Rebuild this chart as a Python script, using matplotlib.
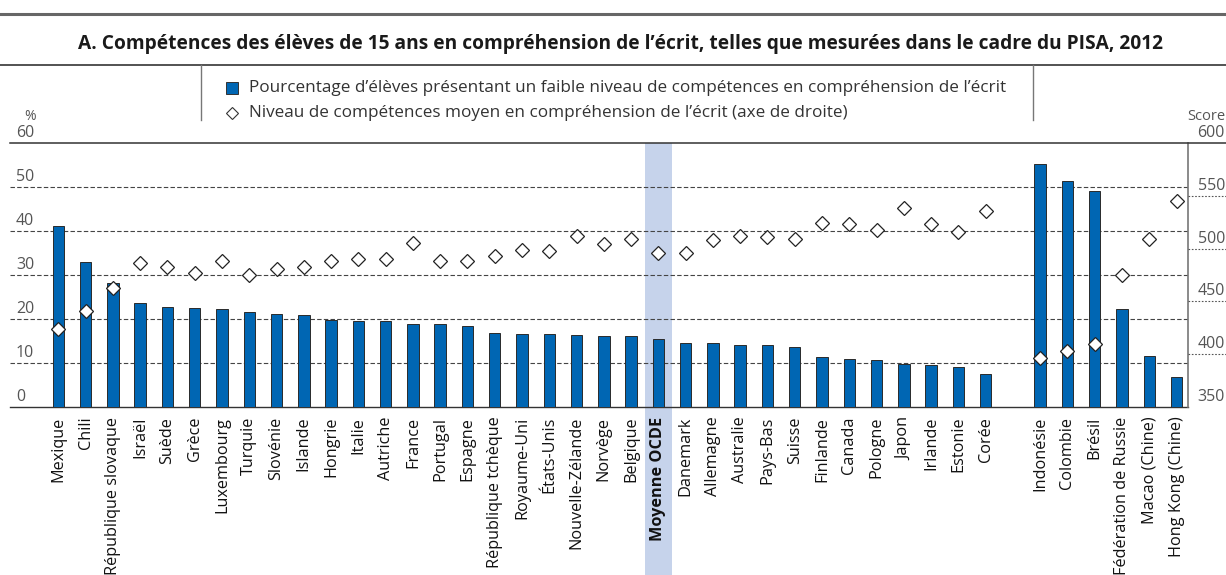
import numpy as np
import matplotlib
matplotlib.use("Agg")
import matplotlib.pyplot as plt
from matplotlib import transforms
from matplotlib.lines import Line2D
from matplotlib.patches import Rectangle

plt.rcParams['font.family'] = ['Open Sans', 'DejaVu Sans']

W, H = 1226, 575

oecd_countries = ["Mexique", "Chili", "République slovaque", "Israël", "Suède", "Grèce",
                  "Luxembourg", "Turquie", "Slovénie", "Islande", "Hongrie", "Italie",
                  "Autriche", "France", "Portugal", "Espagne", "République tchèque",
                  "Royaume-Uni", "États-Unis", "Nouvelle-Zélande", "Norvège", "Belgique",
                  "Moyenne OCDE", "Danemark", "Allemagne", "Australie", "Pays-Bas", "Suisse",
                  "Finlande", "Canada", "Pologne", "Japon", "Irlande", "Estonie", "Corée"]
oecd_low = [41.1, 33.0, 28.2, 23.6, 22.7, 22.6, 22.2, 21.6, 21.1, 21.0, 19.7, 19.5,
            19.5, 18.9, 18.8, 18.3, 16.9, 16.6, 16.6, 16.3, 16.2, 16.1,
            15.4, 14.6, 14.5, 14.2, 14.0, 13.7, 11.3, 10.9, 10.6, 9.8, 9.6, 9.1, 7.6]
oecd_score = [424, 441, 463, 486, 483, 477, 488, 475, 481, 483, 488, 490,
              490, 505, 488, 488, 493, 499, 498, 512, 504, 509,
              496, 496, 508, 512, 511, 509, 524, 523, 518, 538, 523, 516, 536]

partner_countries = ["Indonésie", "Colombie", "Brésil", "Fédération de Russie",
                     "Macao (Chine)", "Hong Kong (Chine)"]
partner_low = [55.2, 51.4, 49.2, 22.3, 11.5, 6.8]
partner_score = [396, 403, 410, 475, 509, 545]

left_ticks = [0, 10, 20, 30, 40, 50, 60]
right_ticks = [350, 400, 450, 500, 550, 600]
highlight = "Moyenne OCDE"

subtitle = ("A. Compétences des élèves de 15 ans en compréhension de l’écrit, "
            "telles que mesurées dans le cadre du PISA, 2012")
legend_bar = ("Pourcentage d’élèves présentant un faible niveau de compétences "
              "en compréhension de l’écrit")
legend_dia = "Niveau de compétences moyen en compréhension de l’écrit (axe de droite)"
left_unit = "%"
right_unit = "Score"

BLUE = "#0066B3"
BAND = "#C6D3EB"


def fx(px):
    return px / W


def fy(py):
    return 1 - py / H


fig = plt.figure(figsize=(W / 100, H / 100), dpi=100)
fig.patch.set_facecolor("white")
renderer = fig.canvas.get_renderer()


def fit(t, target, height=False):
    ext = t.get_window_extent(renderer)
    cur = ext.height if height else ext.width
    t.set_fontsize(t.get_fontsize() * target / cur)
    return t.get_fontsize()


ax = fig.add_axes([fx(10), fy(407), fx(1188) - fx(10), fy(143) - fy(407)])
ax.patch.set_visible(False)

labels = oecd_countries + partner_countries
xpos = list(range(len(oecd_countries))) + \
    [len(oecd_countries) + 1 + i for i in range(len(partner_countries))]
low = oecd_low + partner_low
score = oecd_score + partner_score

for v in left_ticks[1:-1]:
    ax.axhline(v, color="#444444", lw=0.8, ls=(0, (4, 2)), zorder=1)

ax.bar(xpos, low, width=0.42, color=BLUE, edgecolor="#2a2a2a", lw=0.7, zorder=3)

ax.set_xlim(-1.775, 41.42)
ax.set_ylim(left_ticks[0], left_ticks[-1])

hi = labels.index(highlight)
band_tr = transforms.blended_transform_factory(ax.transData, fig.transFigure)
fig.add_artist(Rectangle((xpos[hi] - 0.5, 0), 1.0, fy(143), transform=band_tr,
                         facecolor=BAND, edgecolor="none", zorder=-1))

for s in ["left", "top", "right"]:
    ax.spines[s].set_visible(False)
ax.spines["bottom"].set_color("#333333")
ax.spines["bottom"].set_linewidth(1.0)

ax.set_yticks([])
ax.set_xticks(xpos)
ax.set_xticklabels(labels, rotation=90, color="#111111", fontsize=10, fontweight="medium")
ax.tick_params(axis="x", length=0, pad=7)
for t in ax.get_xticklabels():
    if t.get_text() == highlight:
        t.set_fontweight("bold")
ref = [t for t in ax.get_xticklabels() if t.get_text() == "République slovaque"][0]
xs = fit(ref, 158, height=True)
for t in ax.get_xticklabels():
    t.set_fontsize(xs)

ax2 = ax.twinx()
ax2.patch.set_visible(False)
ax2.set_ylim(right_ticks[0], right_ticks[-1])
ax2.set_yticks([])
for s in ["left", "top", "bottom"]:
    ax2.spines[s].set_visible(False)
ax2.spines["right"].set_color("#777777")
ax2.spines["right"].set_linewidth(1.2)
ax2.plot(xpos, score, ls="none", marker="D", ms=7.4, mfc="white", mec="#222222",
         mew=0.9, zorder=5, clip_on=False)

# top line of the plot (60 / 600) extending to the right edge
fig.add_artist(Line2D([fx(10), 1.0], [fy(143), fy(143)], transform=fig.transFigure,
                      color="#333333", lw=1.1))

# left tick labels inside the plot
ltr = transforms.offset_copy(
    transforms.blended_transform_factory(fig.transFigure, ax.transData),
    fig=fig, x=0, y=2, units="dots")
for v in left_ticks:
    ax.text(fx(16), v, str(v), transform=ltr, ha="left", va="bottom",
            fontsize=11.5, color="#555555")

# right tick labels and short dotted lines
rtr_line = transforms.blended_transform_factory(fig.transFigure, ax2.transData)
for v in right_ticks[1:-1]:
    fig.add_artist(Line2D([fx(1188), 1.0], [v, v], transform=rtr_line,
                          color="#555555", lw=0.8, ls=(0, (1.5, 1.5))))
rtr = transforms.offset_copy(rtr_line, fig=fig, x=0, y=2, units="dots")
for v in right_ticks:
    ax2.text(fx(1225), v, str(v), transform=rtr, ha="right", va="bottom",
             fontsize=11.5, color="#555555")

fig.text(fx(30), fy(117), left_unit, ha="center", va="center", fontsize=10, color="#555555")
fig.text(fx(1225), fy(116), right_unit, ha="right", va="center", fontsize=10.5,
         color="#555555")

# header
fig.add_artist(Line2D([0, 1], [fy(14), fy(14)], transform=fig.transFigure,
                      color="#666666", lw=2.2))
st = fig.text(fx(620), fy(44), subtitle, ha="center", va="center",
              fontweight="bold", fontsize=13, color="#1a1a1a")
fit(st, 1073)
fig.add_artist(Line2D([0, 1], [fy(65), fy(65)], transform=fig.transFigure,
                      color="#444444", lw=1.3))
for xv in (201, 1033):
    fig.add_artist(Line2D([fx(xv), fx(xv)], [fy(65), fy(120)], transform=fig.transFigure,
                          color="#777777", lw=1.0))

fig.add_artist(Line2D([fx(232)], [fy(88)], transform=fig.transFigure, marker="s", ms=8.5,
                      mfc=BLUE, mec="#333333", mew=0.7, ls="none"))
lt1 = fig.text(fx(249), fy(88), legend_bar, ha="left", va="center", fontsize=11,
               color="#333333")
lfs = fit(lt1, 757)
fig.add_artist(Line2D([fx(232)], [fy(113)], transform=fig.transFigure, marker="D", ms=6.2,
                      mfc="white", mec="#333333", mew=0.8, ls="none"))
fig.text(fx(249), fy(113), legend_dia, ha="left", va="center", fontsize=lfs,
         color="#333333")

fig.savefig("out.png", dpi=100)
